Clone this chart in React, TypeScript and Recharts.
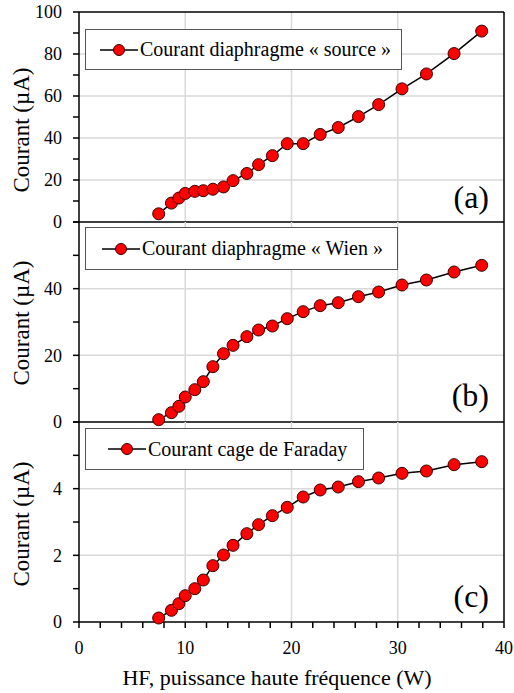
import { CartesianGrid, Line, LineChart, ReferenceLine, XAxis, YAxis } from "recharts";

// HF power (W), shared by the three panels
const power = [7.5, 8.7, 9.4, 10.0, 10.9, 11.7, 12.6, 13.6, 14.5, 15.8, 16.9, 18.2, 19.6, 21.1, 22.7, 24.4, 26.3, 28.2, 30.4, 32.7, 35.3, 37.9];

// currents (µA)
const sourceCurrent = [3.9, 9.0, 11.4, 13.6, 14.6, 14.9, 15.6, 16.7, 19.7, 23.1, 27.3, 31.6, 37.3, 37.3, 41.7, 45.0, 50.2, 55.9, 63.4, 70.5, 80.2, 90.9];
const wienCurrent = [0.7, 2.8, 4.7, 7.5, 9.7, 12.1, 16.6, 20.5, 23.0, 25.6, 27.6, 28.8, 31.0, 33.1, 34.9, 35.8, 37.6, 39.0, 41.1, 42.6, 45.0, 47.0];
const faradayCurrent = [0.12, 0.35, 0.55, 0.79, 1.0, 1.26, 1.69, 2.01, 2.3, 2.65, 2.92, 3.19, 3.44, 3.75, 3.96, 4.05, 4.21, 4.32, 4.46, 4.53, 4.72, 4.81];

const legendLabels = ["Courant diaphragme « source »", "Courant diaphragme « Wien »", "Courant cage de Faraday"];
const panelLetters = ["(a)", "(b)", "(c)"];

const xTicks = [0, 2, 4, 6, 8, 10, 12, 14, 16, 18, 20, 22, 24, 26, 28, 30, 32, 34, 36, 38, 40];
const xGrid = [10, 20, 30];

const ticksA = [0, 10, 20, 30, 40, 50, 60, 70, 80, 90, 100];
const ticksB = [0, 10, 20, 30, 40, 50, 60];
const ticksC = [0, 1, 2, 3, 4, 5, 6];

const FONT = "'Liberation Serif', 'Times New Roman', serif";
const W = 514;
const tickStyle = { fill: "#000", fontSize: 18, fontFamily: FONT };
const frame = { stroke: "#000", strokeWidth: 1.5 };

interface PanelProps {
  values: number[];
  max: number;
  ticks: number[];
  major: number;
  grid: number[];
  top: number;
  height: number;
  withTop?: boolean;
  bottomAxis?: boolean;
}

function Panel({ values, max, ticks, major, grid, top, height, withTop, bottomAxis }: PanelProps) {
  const data = power.map((x, i) => ({ x, y: values[i] }));
  return (
    <div style={{ position: "absolute", left: 0, top }}>
      <LineChart width={W} height={height} data={data} margin={{ top: 10, right: 10, bottom: bottomAxis ? 0 : 10, left: 0 }}>
        <CartesianGrid stroke="#d9d9d9" strokeWidth={1.5} horizontalValues={grid} verticalValues={xGrid} />
        <XAxis
          type="number"
          dataKey="x"
          domain={[0, 40]}
          ticks={xTicks}
          hide={!bottomAxis}
          height={71}
          tickSize={6}
          tickMargin={13}
          axisLine={frame}
          tickLine={frame}
          tick={tickStyle}
          tickFormatter={(v: number) => (v % 10 === 0 ? String(v) : "")}
          interval={0}
        />
        <YAxis
          type="number"
          domain={[0, max]}
          ticks={ticks}
          width={79}
          tickSize={6}
          tickMargin={11}
          axisLine={frame}
          tickLine={frame}
          tick={tickStyle}
          interval={0}
          tickFormatter={(v: number) => (v % major === 0 && v < max ? String(v) : v === max && withTop ? String(v) : "")}
        />
        {withTop && <ReferenceLine y={max} {...frame} />}
        {!bottomAxis && <ReferenceLine y={0} {...frame} />}
        <ReferenceLine x={40} {...frame} />
        <Line
          dataKey="y"
          stroke="#000"
          strokeWidth={1.5}
          dot={{ r: 6, fill: "#ff0000", stroke: "#3a0000", strokeWidth: 1 }}
          isAnimationActive={false}
        />
      </LineChart>
    </div>
  );
}

function LegendBox({ left, top, width, height, lineX, text }: { left: number; top: number; width: number; height: number; lineX: number; text: string }) {
  return (
    <div
      style={{
        position: "absolute",
        left,
        top,
        width,
        height,
        boxSizing: "border-box",
        border: "1px solid #555",
        background: "#fff",
        display: "flex",
        alignItems: "center",
        fontFamily: FONT,
        fontSize: 20,
        color: "#000",
        whiteSpace: "nowrap",
      }}
    >
      <svg width={40} height={14} style={{ marginLeft: lineX - left - 1, flex: "none" }}>
        <line x1={0} y1={7} x2={38} y2={7} stroke="#000" strokeWidth={1.5} />
        <circle cx={19} cy={7} r={5.5} fill="#ff0000" stroke="#3a0000" strokeWidth={1} />
      </svg>
      <span>{text}</span>
    </div>
  );
}

function YLabel({ cy }: { cy: number }) {
  return (
    <div
      style={{
        position: "absolute",
        left: 22 - 100,
        top: cy - 14,
        width: 200,
        height: 28,
        lineHeight: "28px",
        textAlign: "center",
        transform: "rotate(-90deg)",
        fontFamily: FONT,
        fontSize: 23,
        color: "#000",
      }}
    >
      Courant (µA)
    </div>
  );
}

function Letter({ cy, text }: { cy: number; text: string }) {
  return (
    <div
      style={{
        position: "absolute",
        left: 389,
        top: cy - 23,
        width: 100,
        height: 40,
        lineHeight: "40px",
        textAlign: "right",
        fontFamily: FONT,
        fontSize: 32,
        color: "#000",
      }}
    >
      {text}
    </div>
  );
}

export default function App() {
  return (
    <div style={{ position: "absolute", left: 0, top: 0, width: W, height: 693, background: "#fff", overflow: "hidden" }}>
      <Panel values={sourceCurrent} max={100} ticks={ticksA} major={20} grid={[20, 40, 60, 80]} top={2} height={230} withTop />
      <Panel values={wienCurrent} max={60} ticks={ticksB} major={20} grid={[20, 40]} top={212} height={220} />
      <Panel values={faradayCurrent} max={6} ticks={ticksC} major={2} grid={[2, 4]} top={412} height={281} bottomAxis />

      <LegendBox left={85} top={29} width={317} height={41} lineX={100} text={legendLabels[0]} />
      <LegendBox left={85} top={227} width={313} height={43} lineX={102} text={legendLabels[1]} />
      <LegendBox left={85} top={428} width={279} height={42} lineX={108} text={legendLabels[2]} />

      <YLabel cy={130} />
      <YLabel cy={323} />
      <YLabel cy={524} />

      <Letter cy={200} text={panelLetters[0]} />
      <Letter cy={398} text={panelLetters[1]} />
      <Letter cy={599} text={panelLetters[2]} />

      <div
        style={{
          position: "absolute",
          left: 277 - 200,
          top: 665,
          width: 400,
          textAlign: "center",
          fontFamily: FONT,
          fontSize: 22,
          color: "#000",
          lineHeight: "26px",
        }}
      >
        HF, puissance haute fréquence (W)
      </div>
    </div>
  );
}
